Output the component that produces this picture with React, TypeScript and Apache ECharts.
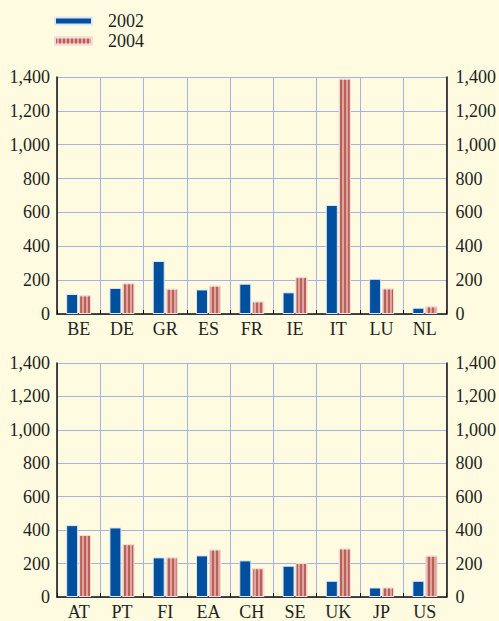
import React, { useEffect, useRef } from "react";
import * as echarts from "echarts";

const categoriesTop = ["BE", "DE", "GR", "ES", "FR", "IE", "IT", "LU", "NL"];
const top2002 = [118, 154, 313, 145, 179, 128, 644, 208, 37];
const top2004 = [110, 181, 149, 167, 74, 218, 1390, 151, 45];
const categoriesBottom = ["AT", "PT", "FI", "EA", "CH", "SE", "UK", "JP", "US"];
const bottom2002 = [430, 416, 237, 249, 219, 187, 97, 57, 97];
const bottom2004 = [371, 316, 237, 284, 172, 203, 290, 57, 247];
const seriesNames = ["2002", "2004"];
const yMin = 0;
const yMax = 1400;
const yInterval = 200;

const FONT = "Liberation Serif";
const TEXT = "#231f20";
const BLUE = "#00509e";
const PINK = "#dfa49c";
const STRIPE = "#b8605a";
const GRID = "#a7b3e3";

export default function App() {
  const ref = useRef<HTMLDivElement>(null);
  useEffect(() => {
    if (!ref.current) return;
    const chart = echarts.init(ref.current, null, { renderer: "svg" });
    const fmt = (v: number) => v.toLocaleString("en-US");
    const yAxisBase = (gridIndex: number, position: "left" | "right") => ({
      type: "value" as const,
      gridIndex,
      position,
      min: yMin,
      max: yMax,
      interval: yInterval,
      axisLine: { show: true, lineStyle: { color: "#111", width: 1.5 } },
      axisTick: { show: false },
      axisLabel: {
        color: TEXT,
        fontFamily: FONT,
        fontSize: 18,
        margin: position === "left" ? 7 : 9,
        formatter: fmt,
      },
      splitLine: position === "left" ? { show: true, lineStyle: { color: GRID, width: 1 } } : { show: false },
    });
    const xAxisBase = (gridIndex: number, data: string[]) => ({
      type: "category" as const,
      gridIndex,
      data,
      offset: 2,
      axisLine: { show: true, lineStyle: { color: "#111", width: 1.5 } },
      axisTick: { show: true, inside: true, length: 4, lineStyle: { color: "#111" } },
      axisLabel: { color: TEXT, fontFamily: FONT, fontSize: 18, margin: 4, interval: 0 },
      splitLine: { show: true, lineStyle: { color: GRID, width: 1 } },
    });
    const decal = {
      symbol: "rect",
      symbolSize: 1,
      color: STRIPE,
      dashArrayX: [1.5, 1.5],
      dashArrayY: [20, 0],
      rotation: 0,
    };
    const blueStyle = { color: BLUE, borderColor: "#dfe6f5", borderWidth: 1 };
    const pinkStyle = { color: PINK, borderColor: "#f3dcd8", borderWidth: 1, decal };
    const bar = (name: string, data: number[], idx: number, style: any) => ({
      name,
      type: "bar",
      data,
      xAxisIndex: idx,
      yAxisIndex: idx * 2,
      barWidth: 12,
      barGap: "8%",
      itemStyle: style,
      emphasis: { disabled: true },
    });
    chart.setOption({
      animation: false,
      backgroundColor: "#fffbe1",
      aria: { enabled: false },
      legend: {
        orient: "vertical",
        left: 49,
        top: 7,
        itemWidth: 37,
        itemHeight: 7,
        itemGap: 2,
        icon: "rect",
        data: seriesNames,
        textStyle: { color: TEXT, fontFamily: FONT, fontSize: 18, padding: [0, 0, 0, 11] },
      },
      grid: [
        { left: 57, right: 52, top: 77, height: 237 },
        { left: 57, right: 52, top: 363, height: 237 },
      ],
      xAxis: [xAxisBase(0, categoriesTop), xAxisBase(1, categoriesBottom)],
      yAxis: [
        yAxisBase(0, "left"),
        yAxisBase(0, "right"),
        yAxisBase(1, "left"),
        yAxisBase(1, "right"),
      ],
      series: [
        bar(seriesNames[0], top2002, 0, blueStyle),
        bar(seriesNames[1], top2004, 0, pinkStyle),
        bar(seriesNames[0], bottom2002, 1, blueStyle),
        bar(seriesNames[1], bottom2004, 1, pinkStyle),
      ],
    });
    return () => chart.dispose();
  }, []);
  return (
    <div
      ref={ref}
      style={{ position: "fixed", left: 0, top: 0, width: 499, height: 621 }}
    />
  );
}
